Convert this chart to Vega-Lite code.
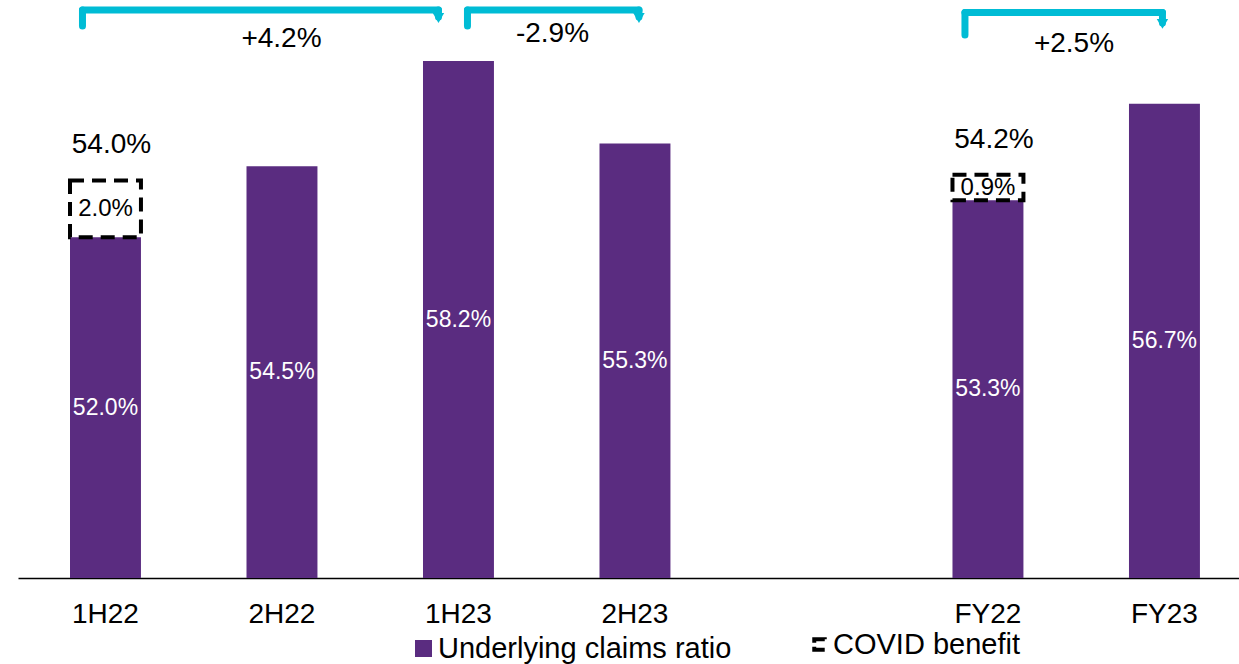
{
  "$schema": "https://vega.github.io/schema/vega-lite/v6.json",
  "width": 1221,
  "height": 568,
  "autosize": {"type": "none"},
  "padding": {"left": 18, "top": 10, "right": 0, "bottom": 86},
  "config": {
    "font": "Liberation Sans",
    "view": {"stroke": null},
    "text": {"font": "Liberation Sans"}
  },
  "data": {
    "values": [
      {"period": "1H22", "value": 0.520, "covid": 0.020, "total": 0.540},
      {"period": "2H22", "value": 0.545},
      {"period": "1H23", "value": 0.582},
      {"period": "2H23", "value": 0.553},
      {"period": "FY22", "value": 0.533, "covid": 0.009, "total": 0.542},
      {"period": "FY23", "value": 0.567}
    ]
  },
  "layer": [
    {
      "mark": {"type": "bar"},
      "encoding": {
        "x": {
          "field": "period",
          "type": "nominal",
          "scale": {
            "domain": ["1H22", "2H22", "1H23", "2H23", " ", "FY22", "FY23"],
            "paddingInner": 0.598,
            "paddingOuter": 0.258,
            "align": 0.571
          },
          "axis": {
            "title": null,
            "labelAngle": 0,
            "labelFontSize": 28,
            "labelColor": "black",
            "labelFont": "Liberation Sans",
            "ticks": false,
            "tickSize": 0,
            "labelPadding": 22,
            "domainColor": "black",
            "domainWidth": 1.5,
            "grid": false
          }
        },
        "y": {
          "field": "value",
          "type": "quantitative",
          "scale": {"domain": [0.4, 0.6], "zero": false, "nice": false},
          "axis": null
        },
        "y2": {"datum": 0.4},
        "fill": {
          "datum": "Underlying claims ratio",
          "type": "nominal",
          "scale": {"range": ["#5A2C80"]},
          "legend": {
            "orient": "none",
            "legendX": 391,
            "legendY": 624,
            "title": null,
            "symbolType": "square",
            "symbolSize": 289,
            "symbolStrokeWidth": 0,
            "labelFontSize": 29,
            "labelFont": "Liberation Sans",
            "labelColor": "black",
            "labelOffset": 0,
            "labelLimit": 600,
            "padding": 0
          }
        }
      }
    },
    {
      "transform": [{"filter": "isValid(datum.covid)"}],
      "mark": {"type": "bar", "fill": "transparent", "strokeWidth": 4, "strokeDash": [14, 8]},
      "encoding": {
        "x": {"field": "period", "type": "nominal"},
        "y": {"field": "value", "type": "quantitative"},
        "y2": {"field": "total"},
        "stroke": {
          "datum": "COVID benefit",
          "type": "nominal",
          "scale": {"range": ["black"]},
          "legend": {
            "orient": "none",
            "legendX": 787,
            "legendY": 620,
            "title": null,
            "symbolType": "square",
            "symbolSize": 110,
            "symbolStrokeWidth": 4,
            "symbolStrokeColor": "black",
            "symbolFillColor": "transparent",
            "symbolDash": [10.5, 10.5, 13.5, 4, 3.5],
            "labelFontSize": 29,
            "labelFont": "Liberation Sans",
            "labelColor": "black",
            "labelOffset": -1,
            "labelLimit": 600,
            "padding": 0
          }
        }
      }
    },
    {
      "transform": [{"calculate": "(datum.value + 0.4) / 2", "as": "mid"}],
      "mark": {"type": "text", "fontSize": 23, "color": "white", "baseline": "middle"},
      "encoding": {
        "x": {"field": "period", "type": "nominal"},
        "y": {"field": "mid", "type": "quantitative"},
        "text": {"field": "value", "type": "quantitative", "format": ".1%"}
      }
    },
    {
      "transform": [
        {"filter": "isValid(datum.covid)"},
        {"calculate": "(datum.value + datum.total) / 2", "as": "boxMid"}
      ],
      "mark": {"type": "text", "fontSize": 24, "color": "black", "baseline": "middle"},
      "encoding": {
        "x": {"field": "period", "type": "nominal"},
        "y": {"field": "boxMid", "type": "quantitative"},
        "text": {"field": "covid", "type": "quantitative", "format": ".1%"}
      }
    },
    {
      "transform": [{"filter": "isValid(datum.covid)"}],
      "mark": {"type": "text", "fontSize": 28, "color": "black", "baseline": "middle", "dx": 6, "dy": -35},
      "encoding": {
        "x": {"field": "period", "type": "nominal"},
        "y": {"field": "total", "type": "quantitative"},
        "text": {"field": "total", "type": "quantitative", "format": ".1%"}
      }
    },
    {
      "data": {"values": [{"from": "1H22", "to": "1H23", "change": "+4.2%"}]},
      "layer": [
        {
          "mark": {"type": "rule", "color": "#00BCD5", "strokeWidth": 7, "strokeCap": "round", "xOffset": -23, "x2Offset": -20},
          "encoding": {"x": {"field": "from", "type": "nominal"}, "x2": {"field": "to"}, "y": {"datum": 0.6}}
        },
        {
          "mark": {"type": "rule", "color": "#00BCD5", "strokeWidth": 7, "strokeCap": "round", "xOffset": -23},
          "encoding": {"x": {"field": "from", "type": "nominal"}, "y": {"datum": 0.6}, "y2": {"datum": 0.5944}}
        },
        {
          "mark": {"type": "rule", "color": "#00BCD5", "strokeWidth": 7, "strokeCap": "round", "xOffset": -20},
          "encoding": {"x": {"field": "to", "type": "nominal"}, "y": {"datum": 0.6}, "y2": {"datum": 0.5975}}
        },
        {
          "mark": {"type": "point", "shape": "triangle-down", "filled": true, "color": "#00BCD5", "opacity": 1, "size": 130, "xOffset": -20},
          "encoding": {"x": {"field": "to", "type": "nominal"}, "y": {"datum": 0.5972}}
        },
        {
          "mark": {"type": "text", "fontSize": 28, "color": "black", "baseline": "middle", "dx": 176},
          "encoding": {"x": {"field": "from", "type": "nominal"}, "y": {"datum": 0.5898}, "text": {"field": "change"}}
        }
      ]
    },
    {
      "data": {"values": [{"from": "1H23", "to": "2H23", "change": "-2.9%"}]},
      "layer": [
        {
          "mark": {"type": "rule", "color": "#00BCD5", "strokeWidth": 7, "strokeCap": "round", "xOffset": 9, "x2Offset": 4},
          "encoding": {"x": {"field": "from", "type": "nominal"}, "x2": {"field": "to"}, "y": {"datum": 0.6}}
        },
        {
          "mark": {"type": "rule", "color": "#00BCD5", "strokeWidth": 7, "strokeCap": "round", "xOffset": 9},
          "encoding": {"x": {"field": "from", "type": "nominal"}, "y": {"datum": 0.6}, "y2": {"datum": 0.5944}}
        },
        {
          "mark": {"type": "rule", "color": "#00BCD5", "strokeWidth": 7, "strokeCap": "round", "xOffset": 4},
          "encoding": {"x": {"field": "to", "type": "nominal"}, "y": {"datum": 0.6}, "y2": {"datum": 0.5975}}
        },
        {
          "mark": {"type": "point", "shape": "triangle-down", "filled": true, "color": "#00BCD5", "opacity": 1, "size": 130, "xOffset": 4},
          "encoding": {"x": {"field": "to", "type": "nominal"}, "y": {"datum": 0.5972}}
        },
        {
          "mark": {"type": "text", "fontSize": 28, "color": "black", "baseline": "middle", "dx": 94},
          "encoding": {"x": {"field": "from", "type": "nominal"}, "y": {"datum": 0.5914}, "text": {"field": "change"}}
        }
      ]
    },
    {
      "data": {"values": [{"from": "FY22", "to": "FY23", "change": "+2.5%"}]},
      "layer": [
        {
          "mark": {"type": "rule", "color": "#00BCD5", "strokeWidth": 7, "strokeCap": "round", "xOffset": -23, "x2Offset": -2},
          "encoding": {"x": {"field": "from", "type": "nominal"}, "x2": {"field": "to"}, "y": {"datum": 0.5991}}
        },
        {
          "mark": {"type": "rule", "color": "#00BCD5", "strokeWidth": 7, "strokeCap": "round", "xOffset": -23},
          "encoding": {"x": {"field": "from", "type": "nominal"}, "y": {"datum": 0.5991}, "y2": {"datum": 0.5912}}
        },
        {
          "mark": {"type": "rule", "color": "#00BCD5", "strokeWidth": 7, "strokeCap": "round", "xOffset": -2},
          "encoding": {"x": {"field": "to", "type": "nominal"}, "y": {"datum": 0.5991}, "y2": {"datum": 0.5954}}
        },
        {
          "mark": {"type": "point", "shape": "triangle-down", "filled": true, "color": "#00BCD5", "opacity": 1, "size": 130, "xOffset": -2},
          "encoding": {"x": {"field": "to", "type": "nominal"}, "y": {"datum": 0.5951}}
        },
        {
          "mark": {"type": "text", "fontSize": 28, "color": "black", "baseline": "middle", "dx": 86},
          "encoding": {"x": {"field": "from", "type": "nominal"}, "y": {"datum": 0.588}, "text": {"field": "change"}}
        }
      ]
    }
  ]
}
